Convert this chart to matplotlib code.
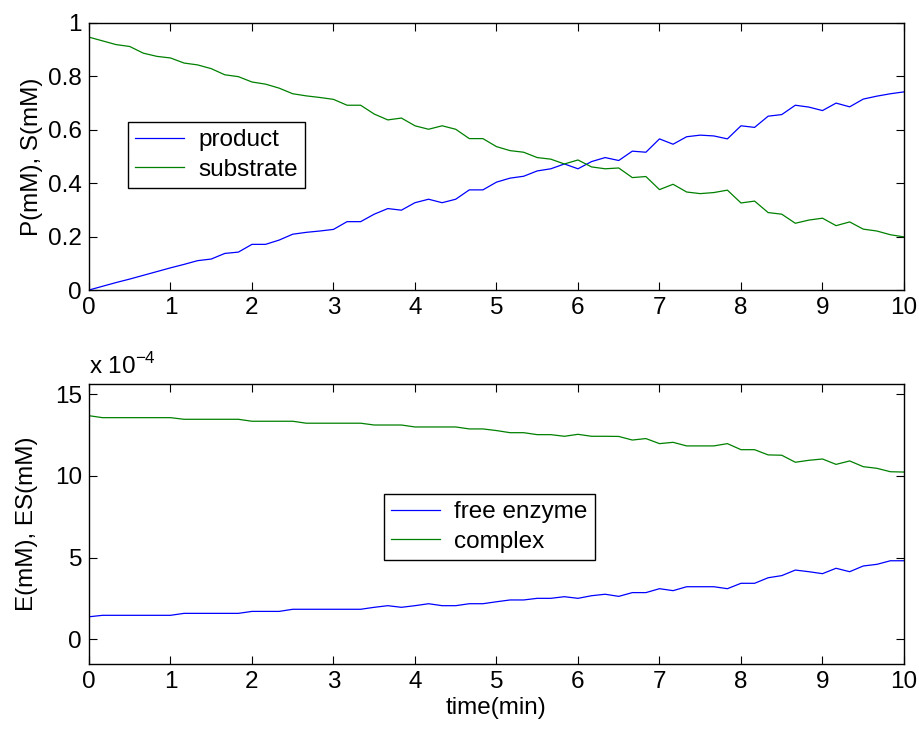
import numpy as np
import matplotlib
matplotlib.use("Agg")
import matplotlib.pyplot as plt

plt.rcParams['font.family'] = ['Liberation Sans', 'DejaVu Sans']

# sampling time (min)
time = np.linspace(0, 10, 61)

# product and substrate (mM)
product = [0.0, 0.014, 0.028, 0.041, 0.055, 0.069, 0.083, 0.096, 0.110, 0.116,
           0.137, 0.142, 0.171, 0.171, 0.187, 0.209, 0.216, 0.221, 0.227, 0.256,
           0.256, 0.284, 0.305, 0.299, 0.327, 0.340, 0.327, 0.340, 0.375, 0.375,
           0.404, 0.419, 0.426, 0.446, 0.454, 0.472, 0.454, 0.481, 0.496, 0.485,
           0.520, 0.516, 0.566, 0.546, 0.574, 0.580, 0.577, 0.566, 0.615, 0.609,
           0.651, 0.657, 0.692, 0.685, 0.672, 0.700, 0.686, 0.715, 0.726, 0.735,
           0.742]
substrate = [0.947, 0.933, 0.919, 0.912, 0.887, 0.875, 0.869, 0.850, 0.843, 0.829,
             0.806, 0.799, 0.779, 0.771, 0.756, 0.735, 0.727, 0.721, 0.714, 0.692,
             0.692, 0.659, 0.637, 0.644, 0.615, 0.602, 0.615, 0.602, 0.567, 0.567,
             0.537, 0.522, 0.516, 0.496, 0.490, 0.472, 0.487, 0.461, 0.454, 0.457,
             0.421, 0.425, 0.376, 0.396, 0.367, 0.361, 0.365, 0.374, 0.326, 0.333,
             0.290, 0.284, 0.250, 0.262, 0.269, 0.241, 0.255, 0.228, 0.221, 0.207,
             0.199]

# free enzyme and complex (x 1e-4 mM)
enzyme = [1.38, 1.47, 1.47, 1.47, 1.47, 1.47, 1.47, 1.59, 1.59, 1.59,
          1.59, 1.59, 1.71, 1.71, 1.71, 1.84, 1.84, 1.84, 1.84, 1.84,
          1.84, 1.96, 2.06, 1.96, 2.06, 2.18, 2.06, 2.06, 2.18, 2.18,
          2.30, 2.41, 2.41, 2.51, 2.51, 2.61, 2.51, 2.67, 2.76, 2.63,
          2.86, 2.86, 3.10, 2.98, 3.22, 3.22, 3.22, 3.10, 3.43, 3.43,
          3.77, 3.90, 4.24, 4.14, 4.02, 4.35, 4.14, 4.49, 4.59, 4.81,
          4.81]
complex_ = [13.69, 13.57, 13.57, 13.57, 13.57, 13.57, 13.57, 13.47, 13.47, 13.47,
            13.47, 13.47, 13.35, 13.35, 13.35, 13.35, 13.23, 13.23, 13.23, 13.23,
            13.23, 13.12, 13.12, 13.12, 13.00, 13.00, 13.00, 13.00, 12.88, 12.88,
            12.78, 12.65, 12.65, 12.53, 12.53, 12.43, 12.55, 12.43, 12.43, 12.42,
            12.20, 12.29, 11.98, 12.06, 11.84, 11.84, 11.84, 11.98, 11.61, 11.61,
            11.29, 11.27, 10.84, 10.96, 11.04, 10.71, 10.92, 10.57, 10.47, 10.26,
            10.24]

fs = 17.5
fig = plt.figure(figsize=(9.2, 7.32), dpi=100)
ax1 = fig.add_axes([0.0967, 0.6038, 0.8859, 0.3648])
ax2 = fig.add_axes([0.0967, 0.0929, 0.8859, 0.3825])

for ax in (ax1, ax2):
    ax.tick_params(direction='in', top=True, right=True, length=6, width=0.8,
                   labelsize=fs, pad=5)
    ax.set_xlim(0, 10)
    ax.set_xticks(range(11))
    for s in ax.spines.values():
        s.set_linewidth(1.0)

leg_style = dict(borderaxespad=0, fontsize=fs, fancybox=False, edgecolor='black',
                 framealpha=1, handlelength=2.0, handletextpad=0.6,
                 borderpad=0.3, labelspacing=0.3)

ax1.plot(time, product, color='blue', lw=0.9, label='product')
ax1.plot(time, substrate, color='green', lw=0.9, label='substrate')
ax1.set_ylim(0, 1)
ax1.set_yticks([0, 0.2, 0.4, 0.6, 0.8, 1])
ax1.set_yticklabels(['0', '0.2', '0.4', '0.6', '0.8', '1'])
ax1.set_ylabel('P(mM), S(mM)', fontsize=fs, labelpad=4)
leg = ax1.legend(loc='upper left', bbox_to_anchor=(0.048, 0.629), **leg_style)
leg.get_frame().set_linewidth(1.0)

ax2.plot(time, enzyme, color='blue', lw=0.9, label='free enzyme')
ax2.plot(time, complex_, color='green', lw=0.9, label='complex')
ax2.set_ylim(-1.51, 15.63)
ax2.set_yticks([0, 5, 10, 15])
ax2.set_ylabel('E(mM), ES(mM)', fontsize=fs, labelpad=12)
ax2.set_xlabel('time(min)', fontsize=fs, labelpad=3)
ax2.text(0.0, 1.02, r'x 10$^{\mathregular{-4}}$', transform=ax2.transAxes,
         fontsize=fs, va='bottom', ha='left')
leg = ax2.legend(loc='upper left', bbox_to_anchor=(0.362, 0.607), **leg_style)
leg.get_frame().set_linewidth(1.0)

fig.savefig('out.png', dpi=100)
